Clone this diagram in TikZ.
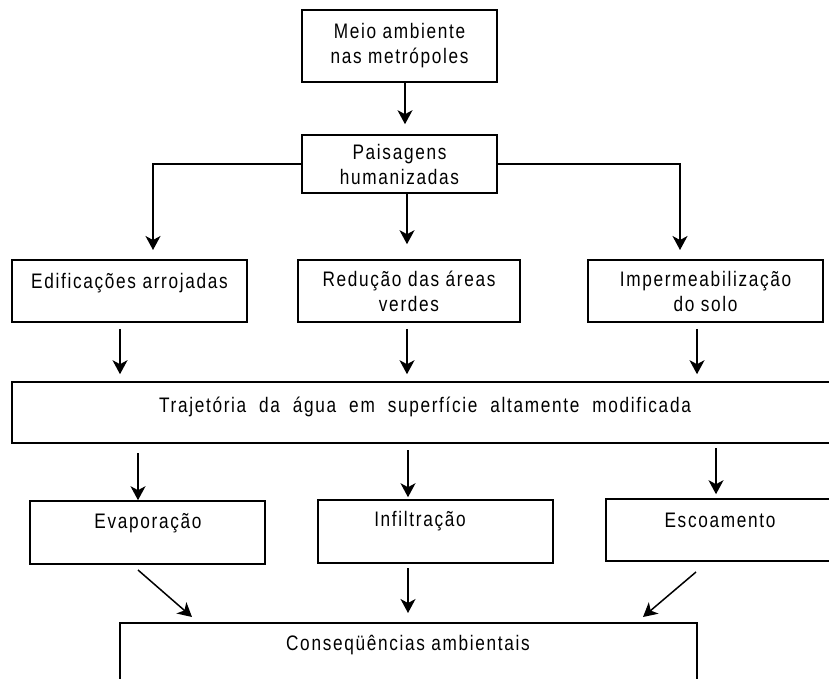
\documentclass[tikz,border=0pt]{standalone}
\usepackage{fontspec}
\setmainfont{Liberation Sans}[FakeStretch=0.82, LetterSpace=8]
\usetikzlibrary{arrows.meta}
\begin{document}
\begin{tikzpicture}[x=1pt,y=-1pt,
  box/.style={draw, line width=1.6pt, rectangle, inner sep=0pt, align=center},
  txt/.style={inner sep=0pt, align=center},
  arr/.style={line width=1.5pt, -{Stealth[length=14pt,width=15pt,inset=4pt]}},
  every node/.append style={font=\fontsize{21}{25}\selectfont}]
\useasboundingbox (0,0) rectangle (829,679);
\clip (0,0) rectangle (829,679);
% boxes
\node[box, minimum width=195pt, minimum height=72pt] (m1) at (399.5,46) {Meio ambiente\\nas metr\'opoles};
\node[box, minimum width=195pt, minimum height=58pt] (m2) at (399.5,164) {Paisagens\\humanizadas};
\node[box, minimum width=235pt, minimum height=62pt] (a) at (129.5,291) {};
\node[txt] (at) at (129.5,283) {Edifica\c{c}\~oes arrojadas};
\node[box, minimum width=222pt, minimum height=62pt] (b) at (409,291) {Redu\c{c}\~ao das \'areas\\verdes};
\node[box, minimum width=235pt, minimum height=62pt] (c) at (705.5,291) {Impermeabiliza\c{c}\~ao\\do solo};
\node[box, minimum width=900pt, minimum height=61pt] (w) at (462,412.5) {};
\node[txt] (wt) at (425,407) {Trajet\'oria\ \ da\ \ \'agua\ \ em\ \ superf\'icie\ \ altamente\ \ modificada};
\node[box, minimum width=235pt, minimum height=63pt] (e) at (147.5,532.5) {};
\node[txt] (et) at (148,523) {Evapora\c{c}\~ao};
\node[box, minimum width=235pt, minimum height=63pt] (i) at (435.5,531.5) {};
\node[txt] (it) at (420,521) {Infiltra\c{c}\~ao};
\node[box, minimum width=300pt, minimum height=62pt] (s) at (756,530) {};
\node[txt] (st) at (720,520) {Escoamento};
\node[box, minimum width=577pt, minimum height=120pt] (k) at (408.5,683) {};
\node[txt] (kt) at (408,645) {Conseq\"u\^encias ambientais};
% connectors
\draw[arr] ([xshift=5.5pt]m1.south) -- ([xshift=5.5pt,yshift=10pt]m2.north);
\coordinate (lb) at (153,250);
\coordinate (rb) at (680,250);
\draw[arr] (m2.west) -| (lb);
\draw[arr] (m2.east) -| (rb);
\draw[arr] ([xshift=7.5pt]m2.south) -- ([xshift=7.5pt,yshift=15pt]m2.south |- b.north);
\draw[arr] ([shift={(-9.5pt,-6pt)}]a.south) -- ([shift={(-9.5pt,7pt)}]a.south |- w.north);
\draw[arr] ([shift={(-2pt,-6pt)}]b.south) -- ([shift={(-2pt,7pt)}]b.south |- w.north);
\draw[arr] ([shift={(-8.5pt,-6pt)}]c.south) -- ([shift={(-8.5pt,7pt)}]c.south |- w.north);
\draw[arr] (138,453) -- (e.north -| 138,0);
\draw[arr] (408,450) -- ([yshift=2pt]i.north -| 408,0);
\draw[arr] (716,448) -- ([yshift=4pt]s.north -| 716,0);
\draw[arr] (138,570) -- (192,617);
\draw[arr] (408,568) -- (408,613);
\draw[arr] (696,572) -- (643,617);
\end{tikzpicture}
\end{document}
